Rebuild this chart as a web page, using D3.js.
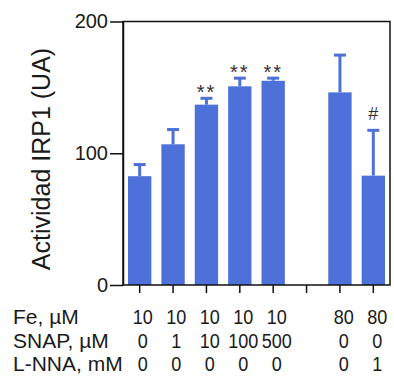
<!DOCTYPE html>
<html>
<head>
<meta charset="utf-8">
<script src="https://cdn.jsdelivr.net/npm/d3@7"></script>
<style>
  body { margin: 0; background: #fff; }
  svg { display: block; font-family: "Liberation Sans", Arial, sans-serif; }
</style>
</head>
<body>
<div id="chart"></div>
<script>
const BAR_COLOR = "#4d71d8";
const TEXT_COLOR = "#1a1a1a";

// groups (one empty slot between the two blocks)
const groups = ["g1", "g2", "g3", "g4", "g5", "gap", "g7", "g8"];
const meanValues = [82.6, 106.8, 136.9, 150.8, 155, null, 146.2, 83];
const errValues = [8.8, 11.2, 4.8, 6.2, 2, null, 28.3, 34.4];
const marks = ["", "", "**", "**", "**", "", "", "#"];

const feRow = ["10", "10", "10", "10", "10", "", "80", "80"];
const snapRow = ["0", "1", "10", "100", "500", "", "0", "0"];
const lnnaRow = ["0", "0", "0", "0", "0", "", "0", "1"];
const rowLabels = ["Fe, \u00b5M", "SNAP, \u00b5M", "L-NNA, mM"];
const yTicks = [0, 100, 200];

let width = 394;
let height = 377;

let svg = d3.select("#chart")
            .append("svg")
            .attr("width", width)
            .attr("height", height);

let x = d3.scaleBand()
          .domain(groups)
          .range([123, 390])
          .paddingInner(0.3)
          .paddingOuter(0.15);

// the treatment table below sits slightly right of the bars
let tx = d3.scaleBand()
           .domain(groups)
           .range([126, 394]);

let y = d3.scaleLinear()
          .domain([0, 200])
          .range([285, 21.5]);

let data = groups.map(function (g, i) {
  return { g: g, mean: meanValues[i], err: errValues[i], mark: marks[i] };
}).filter(function (d) { return d.mean !== null; });

// bars
svg.append("g")
   .selectAll("rect")
   .data(data)
   .enter()
   .append("rect")
   .attr("x", d => x(d.g))
   .attr("y", d => y(d.mean))
   .attr("width", x.bandwidth())
   .attr("height", d => y(0) - y(d.mean))
   .attr("fill", BAR_COLOR);

// error bars (upper only)
let eb = svg.append("g")
            .attr("stroke", BAR_COLOR)
            .attr("stroke-width", 3);

eb.selectAll("line.v")
  .data(data)
  .enter()
  .append("line")
  .attr("x1", d => x(d.g) + x.bandwidth() / 2)
  .attr("x2", d => x(d.g) + x.bandwidth() / 2)
  .attr("y1", d => y(d.mean))
  .attr("y2", d => y(d.mean + d.err));

eb.selectAll("line.cap")
  .data(data)
  .enter()
  .append("line")
  .attr("x1", d => x(d.g) + x.bandwidth() / 2 - 6)
  .attr("x2", d => x(d.g) + x.bandwidth() / 2 + 6)
  .attr("y1", d => y(d.mean + d.err))
  .attr("y2", d => y(d.mean + d.err));

// significance marks
svg.append("g")
   .selectAll("text")
   .data(data.filter(d => d.mark))
   .enter()
   .append("text")
   .attr("x", d => x(d.g) + x.bandwidth() / 2)
   .attr("y", d => y(d.mean + d.err) + (d.mark === "#" ? -10 : 1))
   .attr("text-anchor", "middle")
   .attr("font-size", d => d.mark === "#" ? "18px" : "20px")
   .attr("letter-spacing", d => d.mark === "#" ? 0 : 2)
   .attr("fill", "#333")
   .text(d => d.mark);

// frame
svg.append("rect")
   .attr("x", 123)
   .attr("y", y(200))
   .attr("width", 390 - 123)
   .attr("height", y(0) - y(200))
   .attr("fill", "none")
   .attr("stroke", "#111")
   .attr("stroke-width", 1.5);

// y axis
let yAxis = svg.append("g")
   .attr("transform", "translate(123,0)")
   .call(d3.axisLeft(y).tickValues(yTicks).tickSize(13).tickSizeOuter(0).tickPadding(2));
yAxis.select(".domain").attr("stroke", "#111").attr("stroke-width", 1.5);
yAxis.selectAll(".tick line").attr("stroke", "#111").attr("stroke-width", 1.5);
yAxis.selectAll(".tick text")
     .attr("font-size", "20px")
     .attr("font-family", "Liberation Sans, Arial, sans-serif")
     .attr("fill", TEXT_COLOR);

// x axis ticks
let xAxis = svg.append("g")
   .attr("transform", "translate(0,285)")
   .call(d3.axisBottom(x).tickSize(8).tickSizeOuter(0).tickFormat(""));
xAxis.select(".domain").remove();
xAxis.selectAll(".tick line").attr("stroke", "#111").attr("stroke-width", 1.5);

// y axis title
svg.append("text")
   .attr("transform", "translate(50,159) rotate(-90)")
   .attr("text-anchor", "middle")
   .attr("font-size", "25px")
   .attr("fill", TEXT_COLOR)
   .text("Actividad IRP1 (UA)");

// treatment table
let rows = [feRow, snapRow, lnnaRow];
let rowY = [324, 347.5, 371];

rows.forEach(function (row, r) {
  svg.append("text")
     .attr("x", 13)
     .attr("y", rowY[r])
     .attr("font-size", "21px")
     .attr("fill", TEXT_COLOR)
     .text(rowLabels[r]);

  svg.append("g")
     .selectAll("text")
     .data(groups.map((g, i) => ({ g: g, v: row[i] })).filter(d => d.v !== ""))
     .enter()
     .append("text")
     .attr("transform", d => `translate(${tx(d.g) + tx.bandwidth() / 2},${rowY[r]}) scale(0.86,1)`)
     .attr("text-anchor", "middle")
     .attr("font-size", "21px")
     .attr("fill", TEXT_COLOR)
     .text(d => d.v);
});
</script>
</body>
</html>
